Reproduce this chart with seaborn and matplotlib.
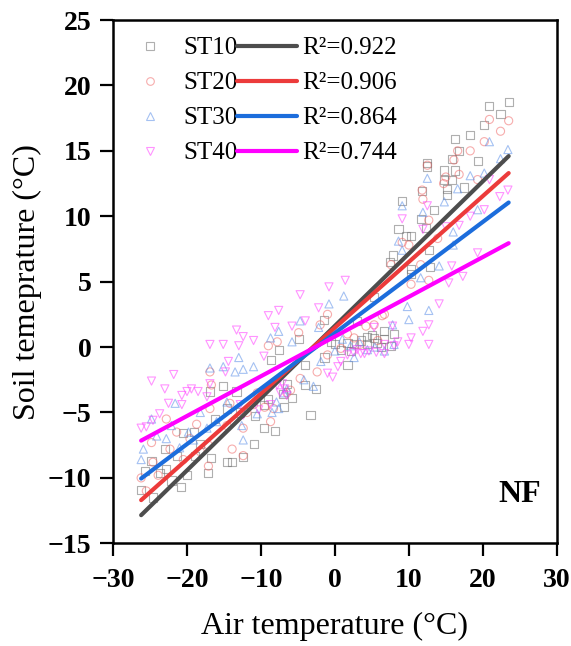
import numpy as np
import pandas as pd
import matplotlib
matplotlib.use("Agg")
import matplotlib.pyplot as plt
from matplotlib.lines import Line2D
import seaborn as sns

# ---------------- data ----------------
series = ["ST10", "ST20", "ST30", "ST40"]
r2_labels = ["R\u00b2=0.922", "R\u00b2=0.906", "R\u00b2=0.864", "R\u00b2=0.744"]

st10_x = [23.5, 20.8, 22.4, 20.2, 18.3, 16.3, 16.8, 19.3, 15.8, 12.5, 12.5, 14.8, 16.2, 15.8, 14.8,
          15.2, 17.4, 15.2, 11.8, 9.1, 8.6, 9.6, 10.3, 12.3, 12.7, 12.9, 10.3, 7.9, 7.5, 10.3,
          5.3, 3.0, 4.3, 5.3, 6.7, 1.7, -1.5, -1.4, 0.0, 0.8, -4.0, -4.1, -2.6, -3.3, -4.8,
          -7.6, -8.7, -6.9, -5.8, -8.1, -9.6, -11.0, -12.4, -13.9, -14.6, -15.1, -16.9, -16.7, -17.1, -18.2,
          -19.1, -20.0, -20.8, -22.1, -22.8, -23.0, -23.7, -24.6, -24.8, -25.7, -26.2, -12.8, -10.8, -9.6, -13.3,
          -20.5, -21.4, -18.9, -16.2, -14.6, -6.5, 1.7, 2.6, 4.4, 5.7, 6.7, 7.6, 8.0, 11.6, 13.4,
          3.5, 5.0, 6.2, 2.2, -0.5, -7.0, -9.0]
st10_y = [18.7, 18.4, 17.8, 17.0, 16.2, 15.9, 15.0, 14.2, 14.4, 14.1, 13.8, 13.5, 13.5, 12.8, 12.8,
          12.1, 12.2, 11.6, 11.9, 11.2, 9.0, 8.5, 8.5, 9.1, 7.4, 6.1, 6.0, 7.0, 6.5, 5.6,
          3.8, 2.0, 0.8, 0.7, 0.6, -1.4, 2.1, -0.8, 0.2, -0.2, -1.4, -2.9, -3.2, -5.2, 0.6,
          -0.2, -1.0, -4.6, -3.9, -6.4, -6.2, -7.4, -8.4, -8.8, -8.8, -3.0, -3.4, -8.5, -9.6, -7.4,
          -6.5, -9.8, -10.7, -10.2, -9.3, -7.8, -9.6, -11.5, -8.7, -9.5, -10.9, -5.0, -5.3, -4.4, -3.4,
          -6.6, -8.3, -8.3, -5.5, -4.7, -2.8, 0.3, 0.2, 0.2, 0.3, 1.2, 0.1, 1.0, 9.8, 10.5,
          0.5, 0.9, 0.0, -0.3, 0.4, -3.6, -4.0]

st20_x = [23.5, 20.9, 22.4, 20.2, 18.3, 16.6, 12.5, 15.0, 16.8, 14.7, 11.9, 16.1, 19.3, 11.8, 9.1,
          10.0, 7.6, 12.7, 12.7, 13.9, 6.4, 4.2, 1.7, -1.0, -2.0, -4.9, -7.8, -9.0, -2.4, -10.5,
          -11.0, -12.4, -12.4, -13.9, -16.9, -16.7, -16.9, -17.1, -17.1, -18.7, -19.6, -21.4, -22.3, -23.9, -24.6,
          -26.2, -25.5, -24.8, -20.5, -18.2, -14.6, -11.9, -8.7, -8.3, -6.5, -4.7, -1.0, 0.8, 2.6, 5.3,
          6.7, 10.3, 11.6, -22.8, -14.2, 3.4, 5.8, -6.0, -9.5]
st20_y = [17.3, 17.4, 16.5, 15.7, 15.0, 15.0, 13.9, 13.0, 13.2, 12.5, 11.3, 14.3, 12.8, 12.0, 8.0,
          7.8, 6.3, 5.1, 9.7, 8.3, 2.4, 1.6, 1.0, 2.5, 1.7, 1.1, 0.4, 0.1, -1.9, -3.5,
          -4.4, -6.2, -8.3, -7.8, -1.9, -2.9, -4.7, -7.5, -9.1, -5.9, -7.0, -6.5, -7.8, -9.8, -8.8,
          -10.0, -11.0, -7.3, -8.6, -8.0, -6.0, -5.0, -5.7, -4.7, -3.5, -2.4, -0.6, -0.1, 0.7, 1.7,
          2.5, 4.8, 6.3, -5.5, -4.3, 0.2, 0.5, -3.3, -4.6]

st30_x = [23.4, 20.9, 22.4, 20.2, 18.3, 12.5, 16.6, 14.8, 9.1, 11.9, 19.3, 16.0, 8.6, 9.1, 14.1,
          16.0, 11.6, 12.7, 9.8, 10.0, 7.8, 1.2, -0.8, -2.2, -4.7, -5.8, -8.7, -7.6, -13.0, -12.4,
          -11.0, -13.5, -15.1, -16.9, -14.6, -12.6, -12.4, -10.5, -8.5, -7.6, -6.5, -4.2, -2.9, -21.6, -22.1,
          -19.8, -24.8, -25.9, -26.2, -22.8, -21.0, -18.2, -17.3, -16.0, -24.1, -19.1, 0.0, 2.1, 4.4, 6.7,
          8.0, 2.6, -1.9, 3.3, 5.4, 1.0, -6.9, -7.9]
st30_y = [15.1, 15.7, 14.4, 13.3, 13.1, 12.9, 12.1, 11.1, 10.8, 10.3, 10.5, 8.8, 8.1, 7.4, 6.2,
          7.8, 5.3, 2.8, 3.1, 2.1, 1.7, 3.9, 3.3, 1.5, 2.0, 0.4, 0.7, 1.2, -0.8, -1.7,
          -1.5, -1.9, -1.5, -1.6, -4.2, -6.0, -7.1, -5.1, -5.0, -4.7, -3.2, -2.5, -3.0, -4.3, -6.0,
          -6.5, -5.5, -7.8, -8.6, -7.0, -7.7, -5.0, -6.2, -5.7, -6.8, -7.1, -0.3, 0.1, -0.2, -0.3,
          0.2, -0.8, -1.1, 0.4, 0.0, 0.6, -3.5, -4.2]

st40_x = [23.4, 22.3, 18.3, 20.9, 20.2, 16.8, 9.1, 12.5, 11.9, 19.3, 17.3, 15.4, 15.8, 14.1, 12.7,
          12.7, 11.9, 10.3, 10.0, 8.0, 8.5, 7.8, 5.3, 6.7, 6.7, 4.6, 3.5, 1.7, 0.8, -1.0,
          1.4, -0.8, -2.2, -4.7, -4.0, -5.8, -7.6, -9.0, -9.6, -8.1, -11.0, -12.4, -13.3, -13.0, -15.1,
          -16.9, -14.4, -14.8, -16.9, -18.5, -19.4, -20.0, -20.7, -21.8, -23.0, -24.8, -22.5, -23.7, -24.6, -26.2,
          -25.5, -20.7, -17.3, -12.8, -12.4, -10.3, -7.8, -7.1, -6.5, -8.7, 15.0,
          2.5, 3.0, 4.0, 5.6, 0.4, -0.3, -6.8, -7.4]
st40_y = [12.0, 11.5, 10.0, 12.8, 10.5, 9.3, 9.8, 10.8, 9.0, 7.2, 5.4, 4.9, 6.2, 3.3, 1.7,
          0.2, 1.2, 0.7, 0.2, 0.1, 0.4, 1.6, 1.5, 0.2, -0.5, -0.3, -0.5, -0.6, -1.1, -2.0,
          5.1, 4.6, 3.0, 4.0, 2.0, 1.6, 2.8, 2.4, -0.7, 1.5, 0.5, 0.8, 1.3, 0.1, 0.2,
          0.2, -1.1, -1.9, -2.8, -3.4, -3.2, -3.4, -3.7, -2.1, -3.2, -2.6, -4.3, -5.1, -5.6, -6.2,
          -6.1, -4.4, -3.8, -4.4, -5.2, -4.8, -2.9, -2.8, -3.7, -4.4, 9.2,
          -0.4, -0.2, -0.5, -0.4, -1.5, -2.3, -3.2, -3.5]

# fitted-line end points
line_x = [-26.2, 23.5]
st10_line = [-12.85, 14.6]
st20_line = [-11.7, 13.3]
st30_line = [-10.05, 11.05]
st40_line = [-7.15, 7.94]

x_ticks = [-30, -20, -10, 0, 10, 20, 30]
y_ticks = [-15, -10, -5, 0, 5, 10, 15, 20, 25]

# ---------------- styles ----------------
sns.set_theme(style="white")
plt.rcParams["font.family"] = ["Liberation Serif", "DejaVu Serif"]
plt.rcParams["text.color"] = "black"
plt.rcParams["axes.labelcolor"] = "black"
plt.rcParams["xtick.color"] = "black"
plt.rcParams["ytick.color"] = "black"

marker_cols = ["#6e6e6e", "#f06a6a", "#5b8fe8", "#ff3cff"]
line_cols = ["#4d4d4d", "#ec3b3b", "#1c6ddc", "#ff00ff"]
markers = ["s", "o", "^", "v"]

xs = [st10_x, st20_x, st30_x, st40_x]
ys = [st10_y, st20_y, st30_y, st40_y]
lines = [st10_line, st20_line, st30_line, st40_line]

fig = plt.figure(figsize=(5.71, 6.46), dpi=100)
ax = fig.add_axes([0.198, 0.159, 0.777, 0.810])

for name, x, y, m, c in zip(series, xs, ys, markers, marker_cols):
    df = pd.DataFrame({"x": x, "y": y})
    sns.scatterplot(data=df, x="x", y="y", marker=m, s=34, facecolor="none",
                    edgecolor=c, linewidth=0.8, alpha=0.55, ax=ax, legend=False)

for ly, c in zip(lines, line_cols):
    sns.lineplot(x=line_x, y=ly, color=c, lw=3, ax=ax, legend=False)

ax.set_xlim(-30, 30)
ax.set_ylim(-15, 25)
ax.set_xticks(x_ticks)
ax.set_yticks(y_ticks)
ax.set_xticklabels([str(t).replace("-", "\u2212") for t in x_ticks])
ax.set_yticklabels([str(t).replace("-", "\u2212") for t in y_ticks])
for lab in ax.get_xticklabels() + ax.get_yticklabels():
    lab.set_fontweight("bold")
    lab.set_fontsize(20)
    lab.set_color("black")
ax.tick_params(axis="both", direction="out", length=9.5, width=1.6,
               bottom=True, left=True, top=False, right=False, colors="black")
ax.tick_params(axis="x", pad=8)
ax.tick_params(axis="y", pad=6)
for sp in ax.spines.values():
    sp.set_linewidth(1.8)
    sp.set_color("black")

ax.set_xlabel("Air temperature (\u00b0C)", fontsize=23, labelpad=14, color="black")
ax.set_ylabel("Soil temeprature (\u00b0C)", fontsize=23, labelpad=4, color="black")

ax.text(25, -11.25, "NF", fontsize=23, fontweight="bold", ha="center", va="center",
        color="black")

# legend: marker + name, then line + R^2
mk_handles = [Line2D([], [], marker=m, linestyle="none", markersize=5.5,
                     markerfacecolor="none", markeredgecolor=c, markeredgewidth=0.8, alpha=0.55)
              for m, c in zip(markers, marker_cols)]
ln_handles = [Line2D([], [], color=c, lw=3) for c in line_cols]

leg_kw = dict(loc="upper left", frameon=False, fontsize=18, labelspacing=0.5,
              borderpad=0, borderaxespad=0, labelcolor="black")
leg1 = ax.legend(mk_handles, series, bbox_to_anchor=(0.0405, 0.968),
                 handlelength=1.5, handletextpad=0.6, **leg_kw)
ax.add_artist(leg1)
leg2 = ax.legend(ln_handles, r2_labels, bbox_to_anchor=(0.279, 0.968),
                 handlelength=2.4, handletextpad=0.2, **leg_kw)

fig.savefig("out.png", dpi=100)
